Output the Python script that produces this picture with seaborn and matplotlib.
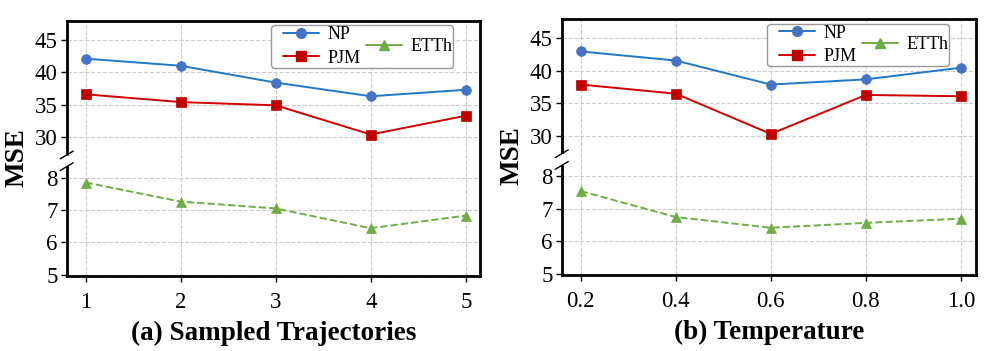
import numpy as np
import pandas as pd
import seaborn as sns
import matplotlib.pyplot as plt
from matplotlib.lines import Line2D
from matplotlib.offsetbox import DrawingArea

## Data
traj = [1, 2, 3, 4, 5]
traj_np = [42.1, 41.0, 38.4, 36.3, 37.3]
traj_pjm = [36.6, 35.4, 34.9, 30.4, 33.3]
traj_etth = [7.85, 7.26, 7.05, 6.44, 6.83]

temp = [0.2, 0.4, 0.6, 0.8, 1.0]
temp_np = [43.0, 41.6, 37.9, 38.7, 40.5]
temp_pjm = [37.9, 36.5, 30.3, 36.3, 36.1]
temp_etth = [7.55, 6.75, 6.42, 6.57, 6.70]

low_ticks = [5, 6, 7, 8]
high_ticks = [30, 35, 40, 45]

# broken axis: upper values squeezed 5:1 and stacked above the lower part
GAP_BASE = 9.25


def squeeze(v):
    return GAP_BASE + (np.asarray(v, dtype=float) - 30) / 5


sns.set_style("ticks")
plt.rcParams['font.family'] = ['Liberation Serif', 'DejaVu Serif']
plt.rcParams['text.color'] = 'black'
plt.rcParams['axes.labelcolor'] = 'black'
plt.rcParams['xtick.color'] = 'black'
plt.rcParams['ytick.color'] = 'black'

styles = {
    'NP': dict(color='#1f78c8', marker='o', mfc='#4472c4', mec='#4472c4', ms=7, ls='-'),
    'PJM': dict(color='#d00000', marker='s', mfc='#c00000', mec='#c00000', ms=7, ls='-'),
    'ETTh': dict(color='#70ad47', marker='^', mfc='#70ad47', mec='#70ad47', ms=7, ls='--'),
}

fig = plt.figure(figsize=(9.96, 3.51), dpi=100)
ax_a = fig.add_axes([0.067, 0.214, 0.415, 0.727])
ax_b = fig.add_axes([0.564, 0.217, 0.416, 0.728])

panels = [
    (ax_a, traj, traj_np, traj_pjm, traj_etth, '(a) Sampled Trajectories', (0.8, 5.15), traj, [str(t) for t in traj]),
    (ax_b, temp, temp_np, temp_pjm, temp_etth, '(b) Temperature', (0.16, 1.032), temp, [f"{t:.1f}" for t in temp]),
]

for ax, x, np_vals, pjm_vals, etth_vals, xlabel, xlim, xticks, xticklabels in panels:
    df = pd.DataFrame({'x': x, 'NP': squeeze(np_vals), 'PJM': squeeze(pjm_vals), 'ETTh': etth_vals})
    for name in ['NP', 'PJM', 'ETTh']:
        st = styles[name]
        sns.lineplot(data=df, x='x', y=name, ax=ax, color=st['color'], marker=st['marker'],
                     markersize=st['ms'], markerfacecolor=st['mfc'], markeredgecolor=st['mec'],
                     markeredgewidth=0.5, linestyle=st['ls'], linewidth=1.4, zorder=3)

    ax.set_ylim(4.97, 12.84)
    ax.set_xlim(*xlim)
    ytick_pos = list(low_ticks) + list(squeeze(high_ticks))
    ax.set_yticks(ytick_pos)
    ax.set_yticklabels([str(t) for t in low_ticks + high_ticks])
    ax.set_xticks(xticks)
    ax.set_xticklabels(xticklabels)
    ax.tick_params(labelsize=16.5, length=4.5, width=1, colors='black')
    ax.tick_params(axis='y', pad=2)
    ax.tick_params(axis='x', pad=7)
    ax.grid(True, linestyle='--', color='#cccccc', linewidth=0.8)
    for sp in ax.spines.values():
        sp.set_linewidth(2)
        sp.set_color('black')

    ax.set_xlabel(xlabel, fontsize=19.5, fontweight='bold', labelpad=6)
    ax.set_ylabel('MSE', fontsize=19.5, fontweight='bold')
    ax.yaxis.set_label_coords(-0.09, 0.465)

    # break marks on the left spine
    tr = ax.get_yaxis_transform()
    ax.plot([0, 0], [8.42, 8.62], color='white', lw=4, transform=tr, clip_on=False, zorder=6)
    for yc in [8.70, 8.34]:
        ax.plot([-0.0157, 0.0157], [yc - 0.12, yc + 0.12], color='black', lw=1,
                transform=tr, clip_on=False, zorder=7)

    handles = []
    for name in ['NP', 'PJM', 'ETTh']:
        st = styles[name]
        handles.append(Line2D([], [], color=st['color'], marker=st['marker'], markersize=st['ms'],
                              markerfacecolor=st['mfc'], markeredgecolor=st['mec'], linewidth=1.4))
    leg = ax.legend(handles, ['NP', 'PJM', 'ETTh'], ncol=2, loc='upper right',
                    bbox_to_anchor=(0.935, 0.983), borderaxespad=0, fontsize=13,
                    handlelength=2.0, handletextpad=0.45, columnspacing=0.3,
                    labelspacing=0.38, borderpad=0.05, fancybox=True, framealpha=1,
                    edgecolor='#999999')
    leg.get_frame().set_linewidth(1)
    # ETTh entry sits halfway between the two rows, and a bit more room on the left
    leg._legend_handle_box.align = "center"
    leg._legend_handle_box._children.insert(0, DrawingArea(4, 0))

fig.savefig('out.png', dpi=100)
